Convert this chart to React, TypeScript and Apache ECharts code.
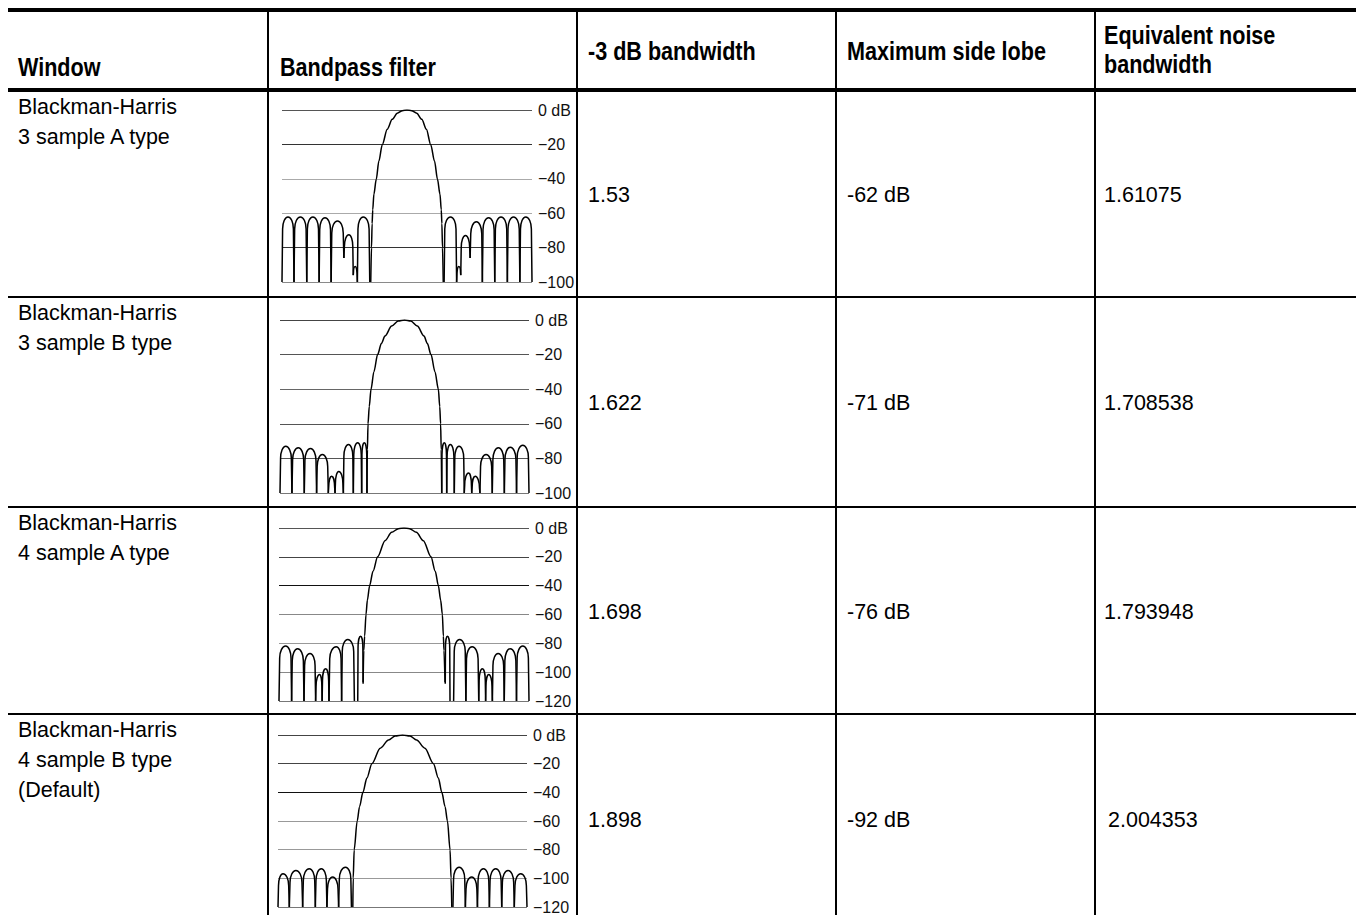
import React, { useEffect, useRef } from 'react';
import * as echarts from 'echarts';

// ---------- table text ----------
const HEADER_LABELS = ['Window', 'Bandpass filter', '-3 dB bandwidth', 'Maximum side lobe', 'Equivalent noise\nbandwidth'];
const WINDOW_NAMES = [
  'Blackman-Harris\n3 sample A type',
  'Blackman-Harris\n3 sample B type',
  'Blackman-Harris\n4 sample A type',
  'Blackman-Harris\n4 sample B type\n(Default)',
];
const BANDWIDTH_3DB = ['1.53', '1.622', '1.698', '1.898'];
const MAX_SIDE_LOBE = ['-62 dB', '-71 dB', '-76 dB', '-92 dB'];
const NOISE_BANDWIDTH = ['1.61075', '1.708538', '1.793948', '2.004353'];

// ---------- chart axes ----------
const DB_FLOOR = [-100, -100, -120, -120];
const BIN_RANGE = [-10, 10];
const DB_TICK_LABELS: Record<string, string> = {
  '0': '0 dB', '-20': '\u221220', '-40': '\u221240', '-60': '\u221260',
  '-80': '\u221280', '-100': '\u2212100', '-120': '\u2212120',
};

// ---------- main lobes: [frequency bin, dB] ----------
const MAIN_LOBE_BH3A: [number, number][] = [
  [-2.9, -100], [-2.84, -80], [-2.79, -66], [-2.74, -58], [-2.65, -49], [-2.46, -40.3], [-2.25, -29.7],
  [-1.98, -20.2], [-1.58, -11.2], [-1.18, -5.4], [-0.78, -1.9], [-0.37, -0.4], [0, 0], [0.37, -0.4],
  [0.78, -1.9], [1.18, -5.4], [1.55, -11.2], [1.9, -20.2], [2.2, -29.7], [2.44, -40.3], [2.64, -49],
  [2.74, -58], [2.79, -66], [2.84, -80], [2.9, -100],
];
const MAIN_LOBE_BH3B: [number, number][] = [
  [-3.02, -100], [-2.98, -75], [-2.93, -60], [-2.83, -50], [-2.69, -40], [-2.46, -30], [-2.16, -20],
  [-1.85, -13.5], [-1.57, -9.3], [-1.03, -3.5], [-0.5, -0.6], [0, 0], [0.5, -0.6], [1.03, -3.5],
  [1.57, -9.3], [1.83, -13.5], [2.13, -20], [2.45, -30], [2.72, -40], [2.83, -50], [2.9, -60],
  [2.95, -75], [2.99, -100],
];
const MAIN_LOBE_BH4A: [number, number][] = [
  [-3.27, -107], [-3.22, -85], [-3.15, -75], [-3.04, -60], [-2.93, -50], [-2.75, -40], [-2.48, -30],
  [-2.11, -20], [-1.52, -8.8], [-0.99, -3], [-0.45, -0.5], [0, 0], [0.45, -0.5], [0.99, -3],
  [1.55, -8.8], [2.16, -20], [2.5, -30], [2.75, -40], [2.93, -50], [3.07, -60], [3.15, -75],
  [3.2, -85], [3.28, -107],
];
const MAIN_LOBE_BH4B: [number, number][] = [
  [-3.99, -120], [-3.96, -100], [-3.88, -80], [-3.64, -60], [-3.45, -50], [-3.18, -40], [-2.86, -30],
  [-2.46, -20], [-1.79, -9.2], [-1.12, -3.5], [-0.59, -0.7], [0, 0], [0.6, -0.7], [1.13, -3.5],
  [1.8, -9.2], [2.49, -20], [2.88, -30], [3.16, -40], [3.42, -50], [3.61, -60], [3.82, -80],
  [3.9, -100], [3.96, -120],
];

// ---------- side lobes: [left null bin, peak bin, right null bin, peak dB, left foot dB, right foot dB] ----------
type Lobe = [number, number, number, number, number | null, number | null];
const SIDE_LOBES_BH3A: Lobe[] = [
  [-10, -9.52, -9.04, -62.2, null, null],
  [-9.04, -8.53, -8.02, -62.2, null, null],
  [-8.02, -7.53, -7.03, -62.2, null, null],
  [-7.03, -6.56, -6.07, -62.6, null, null],
  [-6.07, -5.56, -5.05, -64.5, null, -86],
  [-5.05, -4.65, -4.3, -72.5, -86, -96],
  [-4.3, -4.13, -3.97, -91, -96, null],
  [-3.97, -3.5, -2.98, -62.2, null, null],
  [2.97, 3.48, 3.97, -62.2, null, null],
  [3.97, 4.13, 4.3, -91, null, -96],
  [4.3, 4.68, 5.05, -73, -96, -86],
  [5.05, 5.55, 6.03, -65, -86, null],
  [6.03, 6.53, 7.02, -62.6, null, null],
  [7.02, 7.52, 8.03, -62.2, null, null],
  [8.03, 8.52, 9.03, -62.2, null, null],
  [9.03, 9.5, 10, -62.2, null, null],
];
const SIDE_LOBES_BH3B: Lobe[] = [
  [-10, -9.54, -9.04, -73, null, null],
  [-9.04, -8.53, -8.05, -73.9, null, null],
  [-8.05, -7.55, -7.06, -74.3, null, null],
  [-7.06, -6.6, -6.12, -77.8, null, null],
  [-6.12, -5.85, -5.58, -90.3, null, null],
  [-5.58, -5.28, -4.91, -87.5, null, null],
  [-4.91, -4.5, -4.11, -72, null, null],
  [-4.11, -3.76, -3.44, -71, null, null],
  [-3.44, -3.23, -3.01, -71, null, null],
  [2.99, 3.2, 3.39, -71, null, null],
  [3.39, 3.68, 4.0, -72, null, null],
  [4.0, 4.38, 4.8, -73, null, null],
  [4.8, 5.15, 5.4, -88.4, null, null],
  [5.4, 5.68, 6.06, -90.3, null, null],
  [6.06, 6.55, 7.05, -77.8, null, null],
  [7.05, 7.54, 8.02, -73.9, null, null],
  [8.02, 8.5, 9.0, -73.6, null, null],
  [9.0, 9.5, 10, -72.4, null, null],
];
const SIDE_LOBES_BH4A: Lobe[] = [
  [-10, -9.47, -8.99, -81.9, null, null],
  [-8.99, -8.51, -8.0, -83.8, null, null],
  [-8.0, -7.52, -7.07, -87, null, null],
  [-7.07, -6.75, -6.55, -101.6, null, null],
  [-6.55, -6.27, -6.0, -97.7, null, null],
  [-6.0, -5.42, -4.99, -82.4, null, null],
  [-4.99, -4.5, -3.97, -77.3, null, null],
  [-3.7, -3.47, -3.27, -75, null, -108],
  [3.3, 3.47, 3.68, -75, -108, null],
  [3.97, 4.45, 4.95, -77.3, null, null],
  [4.95, 5.45, 5.98, -82.4, null, null],
  [5.98, 6.27, 6.53, -97.7, null, null],
  [6.53, 6.78, 7.07, -101.6, null, null],
  [7.07, 7.53, 8.02, -87, null, null],
  [8.02, 8.5, 9.0, -83.8, null, null],
  [9.0, 9.5, 10, -81.9, null, null],
];
const SIDE_LOBES_BH4B: Lobe[] = [
  [-10, -9.6, -9.09, -96.8, null, null],
  [-9.09, -8.56, -8.02, -94.5, null, null],
  [-8.02, -7.49, -7.0, -93.3, null, null],
  [-7.0, -6.52, -6.07, -93.3, null, null],
  [-6.07, -5.61, -5.13, -99.1, null, null],
  [-5.13, -4.58, -4.1, -92.2, null, null],
  [4.05, 4.55, 5.05, -92.2, null, null],
  [5.05, 5.56, 6.02, -99, null, null],
  [6.02, 6.5, 6.98, -93.3, null, null],
  [6.98, 7.49, 7.97, -93.3, null, null],
  [7.97, 8.48, 8.98, -94.5, null, null],
  [8.98, 9.5, 10, -96.8, null, null],
];

const MAIN_LOBES = [MAIN_LOBE_BH3A, MAIN_LOBE_BH3B, MAIN_LOBE_BH4A, MAIN_LOBE_BH4B];
const SIDE_LOBES = [SIDE_LOBES_BH3A, SIDE_LOBES_BH3B, SIDE_LOBES_BH4A, SIDE_LOBES_BH4B];

// ---------- layout (positions / styles) ----------
const WIDTH = 1356;
const HEIGHT = 915;
const COL_LINES = [268, 577, 836, 1095];
const ROW_TOPS = [92, 298, 508, 715];
const VALUE_Y = [195, 403, 612, 820];
const GRID_BOXES = [
  { left: 282, top: 110, width: 250, height: 172 },
  { left: 280, top: 320, width: 249, height: 173 },
  { left: 279, top: 528, width: 250, height: 173 },
  { left: 278, top: 735, width: 249, height: 173 },
];
const GRID_COLORS = [
  ['#8a8a8a', '#333', '#aaa', '#aaa', '#333', '#555'],
  ['#777', '#555', '#555', '#666', '#555', '#444'],
  ['#777', '#888', '#999', '#888', '#111', '#444', '#555'],
  ['#777', '#999', '#999', '#999', '#111', '#444', '#444'],
];
const FONT_FAMILY = '"Liberation Sans", Arial, Helvetica, sans-serif';

function renderLobe(params: any, api: any) {
  const a = api.coord([api.value(0), api.value(4)]);
  const p = api.coord([api.value(1), api.value(3)]);
  const b = api.coord([api.value(2), api.value(5)]);
  const hl = Math.max(0, Math.min(12, (a[1] - p[1]) * 0.7));
  const hr = Math.max(0, Math.min(12, (b[1] - p[1]) * 0.7));
  const sx = a[0] + 0.1 * (p[0] - a[0]);
  const tx = b[0] - 0.1 * (b[0] - p[0]);
  const d =
    `M${a[0]},${a[1]}L${sx},${p[1] + hl}` +
    `C${sx},${p[1] + hl * 0.45} ${p[0] - (p[0] - sx) * 0.55},${p[1]} ${p[0]},${p[1]}` +
    `C${p[0] + (tx - p[0]) * 0.55},${p[1]} ${tx},${p[1] + hr * 0.45} ${tx},${p[1] + hr}` +
    `L${b[0]},${b[1]}`;
  return {
    type: 'path',
    shape: { pathData: d },
    style: { fill: 'none', stroke: '#000', lineWidth: 1.5 },
  };
}

function buildOption() {
  const grid = GRID_BOXES.map((g) => ({ ...g, containLabel: false }));
  const xAxis = GRID_BOXES.map((_, i) => ({
    gridIndex: i, type: 'value', min: BIN_RANGE[0], max: BIN_RANGE[1], show: false,
  }));
  const yAxis = GRID_BOXES.map((_, i) => ({
    gridIndex: i, type: 'value', min: DB_FLOOR[i], max: 0, interval: 20, position: 'right',
    axisLine: { show: false }, axisTick: { show: false },
    splitLine: { show: true, lineStyle: { color: GRID_COLORS[i], width: 1 } },
    axisLabel: {
      color: '#111', fontSize: 16, fontFamily: FONT_FAMILY, margin: 6,
      formatter: (v: number) => DB_TICK_LABELS[String(v)] ?? String(v),
    },
  }));
  const series: any[] = [];
  MAIN_LOBES.forEach((d, i) => {
    series.push({
      type: 'line', xAxisIndex: i, yAxisIndex: i, data: d, showSymbol: false, symbol: 'none',
      smooth: 0.3, smoothMonotone: 'x', silent: true,
      lineStyle: { color: '#000', width: 1.5 },
    });
    series.push({
      type: 'custom', xAxisIndex: i, yAxisIndex: i, silent: true,
      data: SIDE_LOBES[i].map((r) => [r[0], r[1], r[2], r[3], r[4] ?? DB_FLOOR[i], r[5] ?? DB_FLOOR[i]]),
      renderItem: renderLobe,
    });
  });

  const elements: any[] = [];
  const rect = (x: number, y: number, w: number, h: number) =>
    elements.push({ type: 'rect', z: 100, silent: true, shape: { x, y, width: w, height: h }, style: { fill: '#000' } });
  rect(8, 8, WIDTH - 8, 4);
  rect(8, 88, WIDTH - 8, 4);
  rect(8, 296, WIDTH - 8, 2);
  rect(8, 506, WIDTH - 8, 2);
  rect(8, 713, WIDTH - 8, 2);
  COL_LINES.forEach((x) => rect(x - 1, 12, 2, HEIGHT - 12));

  const headFont = `bold 26px ${FONT_FAMILY}`;
  const bodyFont = `21.5px ${FONT_FAMILY}`;
  const text = (t: string, x: number, y: number, font: string, va: string, lh: number, sx = 1) =>
    elements.push({
      type: 'text', z: 101, silent: true, x, y, scaleX: sx,
      style: { text: t, font, fill: '#000', textAlign: 'left', textVerticalAlign: va, lineHeight: lh },
    });
  const headX = [18, 280, 588, 847, 1104];
  const headY = [67, 67, 51, 51, 49];
  HEADER_LABELS.forEach((t, i) => text(t, headX[i], headY[i], headFont, 'middle', 29, 0.83));
  WINDOW_NAMES.forEach((t, i) => text(t, 18, ROW_TOPS[i], bodyFont, 'top', 30));
  BANDWIDTH_3DB.forEach((t, i) => text(t, 588, VALUE_Y[i], bodyFont, 'middle', 30));
  MAX_SIDE_LOBE.forEach((t, i) => text(t, 847, VALUE_Y[i], bodyFont, 'middle', 30));
  NOISE_BANDWIDTH.forEach((t, i) => text(t, i === 3 ? 1108 : 1104, VALUE_Y[i], bodyFont, 'middle', 30));

  return {
    animation: false,
    backgroundColor: '#fff',
    grid, xAxis, yAxis, series,
    graphic: { elements },
  };
}

export default function App() {
  const ref = useRef<HTMLDivElement>(null);
  useEffect(() => {
    if (!ref.current) return;
    const chart = echarts.init(ref.current, undefined, { renderer: 'svg' });
    chart.setOption(buildOption() as any);
    return () => chart.dispose();
  }, []);
  return (
    <div
      ref={ref}
      style={{ position: 'absolute', left: 0, top: 0, width: WIDTH, height: HEIGHT, background: '#fff' }}
    />
  );
}
